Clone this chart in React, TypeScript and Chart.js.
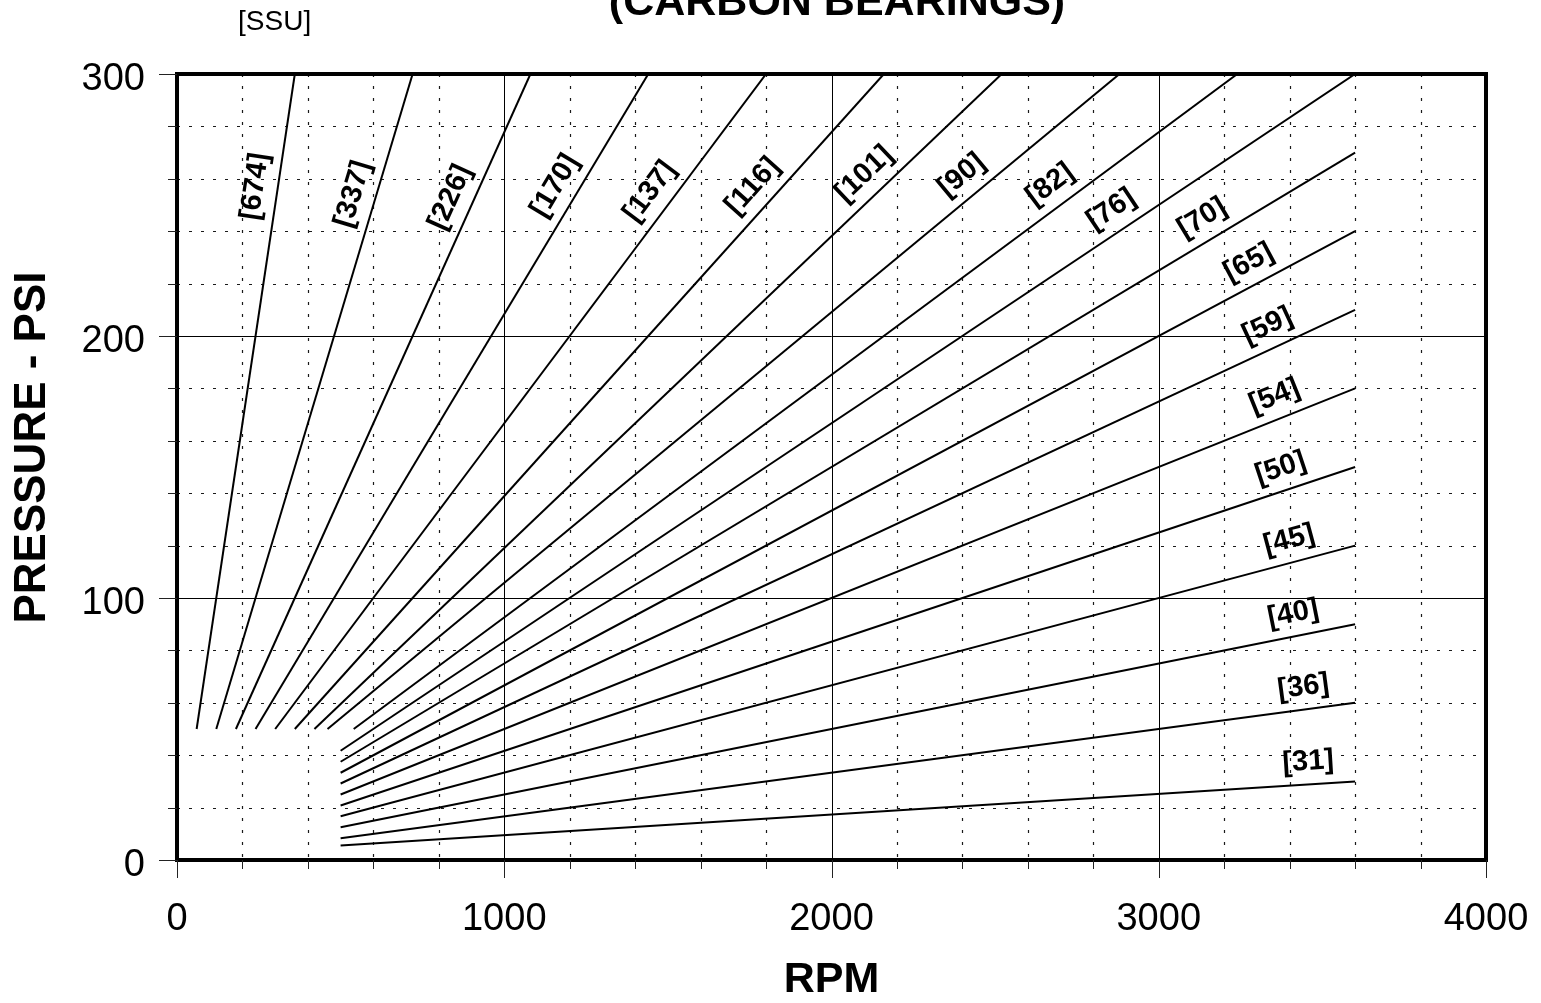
import React, { useEffect, useRef } from 'react';
import { Chart, registerables } from 'chart.js';

Chart.register(...registerables);

// ---- data ----
const ssuLabels = ['[674]', '[337]', '[226]', '[170]', '[137]', '[116]', '[101]', '[90]', '[82]', '[76]', '[70]', '[65]', '[59]', '[54]', '[50]', '[45]', '[40]', '[36]', '[31]'];
const startRpm = [60, 120, 180, 240, 300, 360, 420, 460, 540, 500, 500, 500, 500, 500, 500, 500, 500, 500, 500];
const startPsi = [50, 50, 50, 50, 50, 50, 50, 50, 50, 41.7, 37.5, 33.3, 29.2, 25, 20.8, 16.7, 12.5, 8.3, 5.5];
const endRpm = [360, 720, 1080, 1440, 1800, 2160, 2520, 2880, 3240, 3600, 3600, 3600, 3600, 3600, 3600, 3600, 3600, 3600, 3600];
const endPsi = [300, 300, 300, 300, 300, 300, 300, 300, 300, 300, 270, 240, 210, 180, 150, 120, 90, 60, 30];
const labelRpm = [307, 604, 898, 1214, 1500, 1810, 2147, 2442, 2709, 2893, 3168, 3307, 3361, 3379, 3394, 3416, 3424, 3451, 3461];

const xMajorTicks = [0, 1000, 2000, 3000, 4000];
const yMajorTicks = [0, 100, 200, 300];
const xMinorTicks = [200, 400, 600, 800, 1200, 1400, 1600, 1800, 2200, 2400, 2600, 2800, 3200, 3400, 3600, 3800];
const yMinorTicks = [20, 40, 60, 80, 120, 140, 160, 180, 220, 240, 260, 280];

const titleText = '(CARBON BEARINGS)';
const unitText = '[SSU]';
const xTitle = 'RPM';
const yTitle = 'PRESSURE - PSI';

const FONT = '"Liberation Sans", Arial, Helvetica, sans-serif';

const overlayPlugin = {
  id: 'overlay',
  beforeDatasetsDraw(chart: any) {
    const { ctx, chartArea: a, scales } = chart;
    const xs = scales.x, ys = scales.y;
    ctx.save();
    // minor dotted grid
    ctx.strokeStyle = '#1a1a1a';
    ctx.lineWidth = 1.2;
    ctx.setLineDash([3, 9]);
    for (const v of xMinorTicks) {
      const p = Math.round(xs.getPixelForValue(v)) + 0.5;
      ctx.beginPath(); ctx.moveTo(p, a.top); ctx.lineTo(p, a.bottom); ctx.stroke();
    }
    for (const v of yMinorTicks) {
      const p = Math.round(ys.getPixelForValue(v)) + 0.5;
      ctx.beginPath(); ctx.moveTo(a.left, p); ctx.lineTo(a.right, p); ctx.stroke();
    }
    // major solid grid
    ctx.setLineDash([]);
    ctx.strokeStyle = '#000';
    ctx.lineWidth = 1;
    for (const v of xMajorTicks) {
      const p = Math.round(xs.getPixelForValue(v)) + 0.5;
      ctx.beginPath(); ctx.moveTo(p, a.top); ctx.lineTo(p, a.bottom); ctx.stroke();
    }
    for (const v of yMajorTicks) {
      const p = Math.round(ys.getPixelForValue(v)) + 0.5;
      ctx.beginPath(); ctx.moveTo(a.left, p); ctx.lineTo(a.right, p); ctx.stroke();
    }
    ctx.restore();
  },
  afterDatasetsDraw(chart: any) {
    const { ctx, chartArea: a, scales } = chart;
    const xs = scales.x, ys = scales.y;
    ctx.save();
    // line labels
    const fs = 29;
    ctx.font = `bold ${fs}px ${FONT}`;
    ctx.fillStyle = '#000';
    ctx.textAlign = 'center';
    ctx.textBaseline = 'alphabetic';
    for (let i = 0; i < ssuLabels.length; i++) {
      const t = (labelRpm[i] - startRpm[i]) / (endRpm[i] - startRpm[i]);
      const psi = startPsi[i] + t * (endPsi[i] - startPsi[i]);
      const px = xs.getPixelForValue(labelRpm[i]);
      const py = ys.getPixelForValue(psi);
      const x0 = xs.getPixelForValue(startRpm[i]);
      const y0 = ys.getPixelForValue(startPsi[i]);
      const x1 = xs.getPixelForValue(endRpm[i]);
      const y1 = ys.getPixelForValue(endPsi[i]);
      const dx = x1 - x0, dy = y1 - y0;
      const len = Math.hypot(dx, dy);
      const ux = dx / len, uy = dy / len;
      const nx = uy, ny = -ux;
      const off = 22;
      ctx.save();
      ctx.translate(px + nx * off, py + ny * off);
      ctx.rotate(Math.atan2(dy, dx));
      ctx.fillText(ssuLabels[i], 0, fs * 0.26);
      ctx.restore();
    }
    // frame
    ctx.strokeStyle = '#000';
    ctx.lineWidth = 4;
    ctx.strokeRect(a.left, a.top, a.right - a.left, a.bottom - a.top);
    // tick marks
    ctx.lineWidth = 1;
    ctx.strokeStyle = '#222';
    for (const v of xMajorTicks) {
      const p = Math.round(xs.getPixelForValue(v)) + 0.5;
      ctx.beginPath(); ctx.moveTo(p, a.bottom); ctx.lineTo(p, a.bottom + 18); ctx.stroke();
    }
    for (const v of xMinorTicks) {
      const p = Math.round(xs.getPixelForValue(v)) + 0.5;
      ctx.beginPath(); ctx.moveTo(p, a.bottom); ctx.lineTo(p, a.bottom + 9); ctx.stroke();
    }
    for (const v of yMajorTicks) {
      const p = Math.round(ys.getPixelForValue(v)) + 0.5;
      ctx.beginPath(); ctx.moveTo(a.left - 18, p); ctx.lineTo(a.left, p); ctx.stroke();
    }
    for (const v of yMinorTicks) {
      const p = Math.round(ys.getPixelForValue(v)) + 0.5;
      ctx.beginPath(); ctx.moveTo(a.left - 9, p); ctx.lineTo(a.left, p); ctx.stroke();
    }
    ctx.restore();
  },
  afterDraw(chart: any) {
    const { ctx, chartArea: a } = chart;
    ctx.save();
    ctx.fillStyle = '#000';
    ctx.textAlign = 'center';
    ctx.textBaseline = 'alphabetic';
    ctx.font = `bold 43px ${FONT}`;
    ctx.fillText(titleText, 837, 15);
    ctx.font = `28px ${FONT}`;
    ctx.fillText(unitText, 274.6, 29.5);
    ctx.font = `bold 44px ${FONT}`;
    ctx.textBaseline = 'middle';
    ctx.translate(33, (a.top + a.bottom) / 2 - 19.5);
    ctx.rotate(-Math.PI / 2);
    ctx.fillText(yTitle, 0, 0);
    ctx.restore();
  },
};

export default function App() {
  const ref = useRef<HTMLCanvasElement | null>(null);
  useEffect(() => {
    if (!ref.current) return;
    Chart.defaults.font.family = FONT;
    const datasets = ssuLabels.map((lab, i) => ({
      label: lab,
      data: [
        { x: startRpm[i], y: startPsi[i] },
        { x: endRpm[i], y: endPsi[i] },
      ],
      showLine: true,
      borderColor: '#000',
      backgroundColor: '#000',
      borderWidth: 2,
      pointRadius: 0,
      pointHoverRadius: 0,
    }));
    const chart = new Chart(ref.current, {
      type: 'scatter',
      data: { datasets },
      options: {
        responsive: false,
        animation: false,
        devicePixelRatio: 1,
        layout: { padding: { top: 74, right: 55, left: 0, bottom: 0 } },
        plugins: { legend: { display: false }, tooltip: { enabled: false }, title: { display: false } },
        scales: {
          x: {
            type: 'linear',
            min: 0,
            max: 4000,
            grid: { display: false, drawTicks: false },
            border: { display: false },
            afterBuildTicks: (s: any) => { s.ticks = xMajorTicks.map((v) => ({ value: v })); },
            afterFit: (s: any) => { s.height = 143; },
            ticks: {
              autoSkip: false,
              maxRotation: 0,
              padding: 10,
              color: '#000',
              font: { family: FONT, size: 38, lineHeight: '100px' },
              callback: (v: any) => String(v),
            },
            title: {
              display: true,
              text: xTitle,
              color: '#000',
              font: { family: FONT, size: 43, weight: 'bold', lineHeight: 1 },
              padding: { top: 0, bottom: 1.5 },
            },
          },
          y: {
            type: 'linear',
            min: 0,
            max: 300,
            grid: { display: false, drawTicks: false },
            border: { display: false },
            afterBuildTicks: (s: any) => { s.ticks = yMajorTicks.map((v) => ({ value: v })); },
            afterFit: (s: any) => { s.width = 177; },
            ticks: {
              autoSkip: false,
              padding: 32,
              labelOffset: 5.5,
              color: '#000',
              font: { family: FONT, size: 38, lineHeight: 1 },
              callback: (v: any) => String(v),
            },
          },
        },
      },
      plugins: [overlayPlugin],
    } as any);
    return () => chart.destroy();
  }, []);
  return (
    <div style={{ position: 'fixed', left: 0, top: 0, width: 1541, height: 1003, background: '#fff' }}>
      <canvas ref={ref} width={1541} height={1003} style={{ display: 'block' }} />
    </div>
  );
}
